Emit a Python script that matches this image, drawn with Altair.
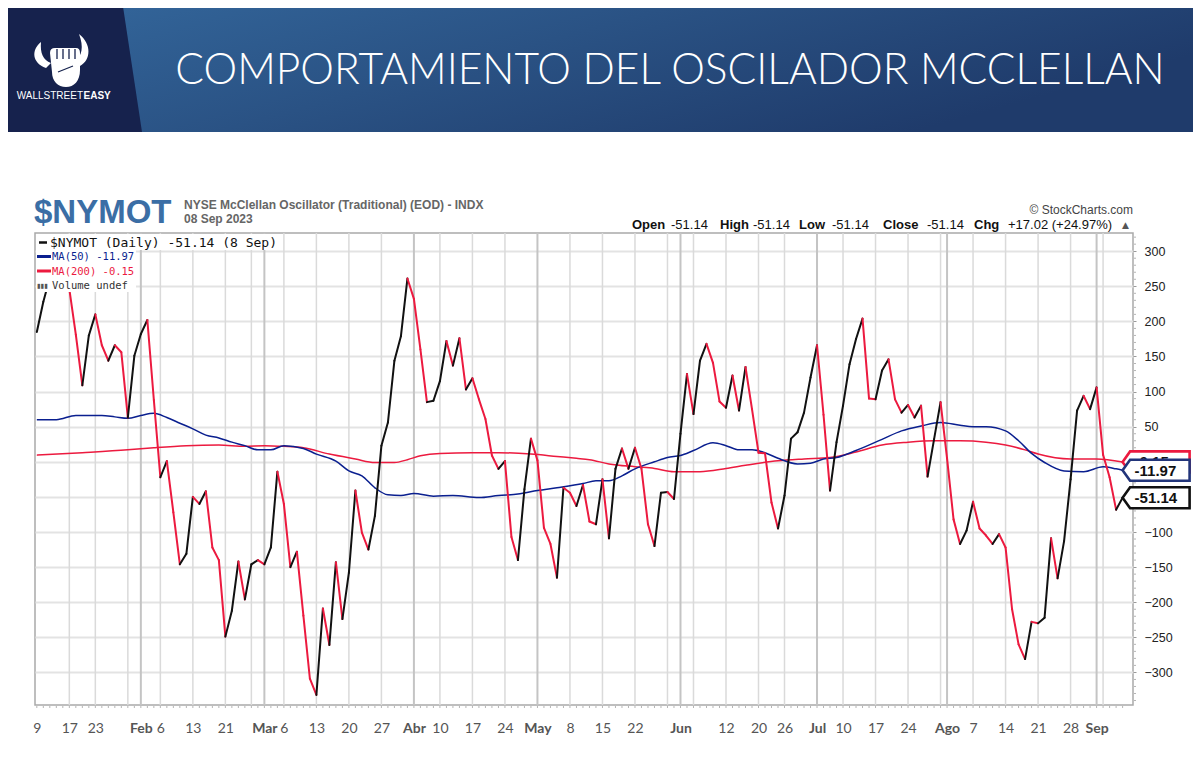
import altair as alt
import pandas as pd
import numpy as np

# ---------------- data ----------------
# McClellan oscillator, one value per trading day, 9 Jan 2023 .. 8 Sep 2023
osc_values = [
    185, 228, 262, 280, 272, 246, 181, 109, 180, 210,
    166, 144, 166, 156, 63, 151, 182, 202, 88, -22,
    1, -72, -146, -131, -50, -60, -42, -122, -140, -249,
    -212, -142, -196, -146, -140, -146, -122, -14, -60, -150,
    -128, -219, -309, -332, -209, -261, -143, -224, -158, -41,
    -101, -125, -77, 23, 56, 144, 179, 261, 232, 160,
    85, 87, 115, 172, 137, 176, 103, 119, 89, 61,
    9, -10, 1, -107, -140, -39, 33, 2, -94, -117,
    -165, -37, -44, -63, -33, -85, -89, -25, -109, -10,
    19, -10, 20, -10, -89, -120, -44, -43, -53, 40,
    125, 68, 144, 168, 141, 86, 77, 123, 73, 135,
    75, 13, 12, -58, -95, -48, 33, 42, 70, 120,
    166, 67, -41, 28, 80, 139, 175, 204, 90, 89,
    130, 146, 89, 70, 81, 63, 80, -21, 32, 85,
    5, -82, -117, -98, -57, -95, -105, -117, -103, -122,
    -210, -260, -281, -228, -230, -222, -109, -166, -113, -25,
    73, 94, 75, 106, 10, -22, -68.16, -51.14,
]

ma50_idx = [0, 3, 6, 10, 12, 14, 16, 18, 20, 22, 24, 26, 28, 30, 32, 34, 36, 38, 41, 43,
            46, 48, 50, 52, 54, 56, 58, 61, 64, 68, 71, 74, 77, 80, 84, 86, 88, 90, 92, 95,
            97, 99, 101, 104, 106, 108, 110, 112, 114, 117, 119, 121, 123, 126, 130, 133, 136, 139, 142, 144,
            146, 149, 151, 153, 155, 158, 161, 164, 166, 167]
ma50_val = [60, 60, 66, 66, 64, 62, 66, 69, 63, 55, 47, 38, 34, 28, 23, 17, 17, 23, 19, 11,
            1, -13, -20, -37, -47, -48, -45, -49, -48, -51, -48, -46, -41, -37, -31, -27, -27, -20, -10, 0,
            6, 9, 16, 27, 23, 17, 17, 13, 5, -3, -2, 4, 6, 16, 32, 44, 51, 56, 52, 50,
            50, 44, 30, 12, -1, -13, -14, -7, -10, -11.97]

ma200_idx = [0, 7, 14, 18, 23, 28, 32, 35, 38, 41, 45, 49, 52, 55, 57, 59, 62, 67, 71, 76,
             80, 83, 85, 88, 92, 95, 98, 102, 106, 109, 114, 118, 122, 126, 130, 134, 138, 142, 146, 149,
             152, 154, 159, 163, 167]
ma200_val = [9.5, 13, 17, 20, 23, 24, 22, 23, 22, 20, 11, 4, -1, -1, 3, 8.5, 12, 13, 13, 11,
             7.6, 5, 3, -3, -7, -9.5, -14, -14, -9.5, -5, 1.4, 4, 6, 14, 24, 28, 30, 30, 28, 24,
             17, 11, 4, 4, -0.15]

tick_idx = [0, 5, 9, 16, 19, 24, 29, 35, 38, 43, 48, 53, 58, 62, 67, 72, 77, 82, 87, 92,
            99, 106, 111, 115, 120, 124, 129, 134, 140, 144, 149, 154, 159, 163]
tick_lab = ["9", "17", "23", "Feb", "6", "13", "21", "Mar", "6", "13", "20", "27", "Abr", "10", "17",
            "24", "May", "8", "15", "22", "Jun", "12", "20", "26", "Jul", "10", "17", "24", "Ago",
            "7", "14", "21", "28", "Sep"]
month_idx = [16, 35, 58, 77, 99, 120, 140, 163]
week_idx = [5, 9, 14, 19, 24, 29, 33, 38, 43, 48, 53, 62, 67, 72, 82, 87, 92, 97, 101, 106,
            111, 115, 124, 129, 134, 139, 144, 149, 154, 159, 164]
y_ticks = [-300, -250, -200, -150, -100, -50, 0, 50, 100, 150, 200, 250, 300]

tag_labels = ["-0.15", "-11.97", "-51.14"]
tag_values = [-0.15, -11.97, -51.14]

# ---------------- styling ----------------
RED = "#ec1a3f"
BLACK = "#111111"
NAVY = "#0a1f8f"
TAG_COLORS = [RED, "#22357a", BLACK]

PLOT_W, PLOT_H = 1098, 472
X0, Y0 = 35, 233          # page position of the plot area


def px(x):
    return x - X0


def py(y):
    return y - Y0


xs = alt.Scale(domain=[-0.28, 168.6], nice=False, zero=False)
ys = alt.Scale(domain=[-346.4, 325.9], nice=False, zero=False)

bold_test = "indexof(" + str(month_idx) + ", datum.value) >= 0"
label_expr = ("[" + ",".join("'" + s + "'" for s in tick_lab) + "][indexof(" + str(tick_idx) +
              ", datum.value)]")

x_axis = alt.Axis(
    values=tick_idx, labelExpr=label_expr, title=None, grid=False, ticks=False, domain=False,
    labelFlush=False, labelOverlap=False, labelBound=False, labelPadding=23,
    labelBaseline="middle", labelFont="Lato", labelFontSize=14, labelColor="#555555",
    labelFontWeight={"condition": {"test": bold_test, "value": "bold"}, "value": "normal"})
# labels 0 and -50 sit behind the value tags in the reference
y_axis = alt.Axis(
    orient="right", values=y_ticks, title=None, grid=True, gridColor="#e3e3e3",
    gridWidth=1.8, domain=False, ticks=True, tickSize=3, tickColor="#999999",
    labelPadding=8, labelFont="Liberation Sans", labelFontSize=12.5, labelColor="#222222",
    labelOverlap=False, labelFlush=False,
    labelExpr="(datum.value == 0 || datum.value == -50) ? '' : datum.label")


def X(field="i"):
    return alt.X(field + ":Q", scale=xs, axis=x_axis, title=None)


def Y(field="v"):
    return alt.Y(field + ":Q", scale=ys, axis=y_axis, title=None)


one = pd.DataFrame({"a": [0]})

n = len(osc_values)
seg = pd.DataFrame({
    "i": list(range(n - 1)),
    "i2": list(range(1, n)),
    "v": osc_values[:-1],
    "v2": osc_values[1:],
})
seg["dir"] = np.where(seg["v2"] >= seg["v"], "up", "down")

ma50 = pd.DataFrame({"i": ma50_idx, "v": ma50_val})
ma200 = pd.DataFrame({"i": ma200_idx, "v": ma200_val})
months = pd.DataFrame({"i": month_idx})
weeks = pd.DataFrame({"i": week_idx})
days = pd.DataFrame({"i": list(range(n))})
minor = pd.DataFrame({"v": [v for v in range(-340, 330, 10) if v % 50 != 0]})


def txt(text, x, y, align="left", baseline="middle", **kw):
    return alt.Chart(one).mark_text(text=text, align=align, baseline=baseline, **kw).encode(
        x=alt.value(px(x)), y=alt.value(py(y)))


def shape(path, fill=None, stroke=None, sw=0):
    kw = dict(shape=path, size=4, opacity=1, strokeWidth=sw)
    if fill:
        kw.update(filled=True, fill=fill, fillOpacity=1)
    else:
        kw.update(filled=False, fillOpacity=0)
    if stroke:
        kw.update(stroke=stroke, strokeOpacity=1)
    else:
        kw.update(strokeOpacity=0)
    return alt.Chart(one).mark_point(**kw).encode(x=alt.value(px(0)), y=alt.value(py(0)))


# ---------------- banner ----------------
banner = alt.Chart(one).mark_rect(
    fill=alt.Gradient(gradient="linear",
                      stops=[alt.GradientStop(color="#34689d", offset=0),
                             alt.GradientStop(color="#2a5284", offset=0.5),
                             alt.GradientStop(color="#1f3b6b", offset=1)],
                      x1=0, x2=1, y1=0, y2=0.4)
).encode(x=alt.value(px(0)), x2=alt.value(px(1201)), y=alt.value(py(0)), y2=alt.value(py(132)))

dark_block = shape("M0,0 L122,0 L142,132 L0,132 Z", fill="#16224d")

logo = shape(
    "M41,42 C31,50 32,63 46,68 L51,63 C43,60 40,53 41,42 Z "
    "M79,34 C92,44 91,60 80,66 L75,61 C82,56 84,47 79,34 Z "
    "M50,53 Q50,48 55,48 L76,48 Q80,48 80,53 L80,70 C80,81 74,87 66,87 C58,87 52,81 52,72 Z",
    fill="white")
logo_lines = shape("M57,49 L57,59 M63,49 L63,59 M69,49 L69,59 M75,49 L75,59 M58,72 L73,66",
                   stroke="#16224d", sw=1.3)

title = txt("COMPORTAMIENTO DEL OSCILADOR MCCLELLAN", 670, 84, align="center", baseline="alphabetic",
            font="Lato", fontWeight=300, fontSize=42.5, color="white")
brand1 = txt("WALLSTREET", 83, 95.5, align="right", font="Liberation Sans", fontSize=10, color="white")
brand2 = txt("EASY", 83.5, 95.5, align="left", font="Liberation Sans", fontSize=10,
             fontWeight="bold", color="white")

# ---------------- header texts ----------------
sym = txt("$NYMOT", 34, 223, baseline="alphabetic", font="Liberation Sans", fontSize=33,
          fontWeight="bold", color="#3b6ea5")
desc = txt("NYSE McClellan Oscillator (Traditional) (EOD) - INDX", 184, 205,
           font="Liberation Sans", fontSize=12, fontWeight="bold", color="#666666")
date = txt("08 Sep 2023", 184, 219, font="Liberation Sans", fontSize=12, fontWeight="bold",
           color="#666666")
sc = txt("© StockCharts.com", 1133, 210, align="right", font="Liberation Sans", fontSize=12,
         color="#444444")

ohlc_parts = [("Open", 632, "bold"), ("-51.14", 671, "normal"), ("High", 720, "bold"),
              ("-51.14", 753, "normal"), ("Low", 799, "bold"), ("-51.14", 832, "normal"),
              ("Close", 883, "bold"), ("-51.14", 927, "normal"), ("Chg", 974, "bold"),
              ("+17.02 (+24.97%)", 1008, "normal")]
ohlc = [txt(t, x, 225, font="Liberation Sans", fontSize=13, fontWeight=w, color="#111111")
        for t, x, w in ohlc_parts]
ohlc.append(txt("▲", 1122, 225, font="DejaVu Sans", fontSize=9, color="#555555"))

# ---------------- plot layers ----------------
vgrid_w = alt.Chart(weeks).mark_rule(color="#dadada", strokeWidth=1.5).encode(x=X())
vgrid_m = alt.Chart(months).mark_rule(color="#c4c4c4", strokeWidth=2).encode(x=X())

day_ticks = alt.Chart(days).mark_rule(color="#b5b5b5", strokeWidth=1).encode(
    x=X(), y=alt.value(PLOT_H + 1), y2=alt.value(PLOT_H + 3))
minor_ticks = alt.Chart(minor).mark_rule(color="#b5b5b5", strokeWidth=1).encode(
    y=Y(), x=alt.value(PLOT_W + 1), x2=alt.value(PLOT_W + 3))

l200 = alt.Chart(ma200).mark_line(color=RED, strokeWidth=1.5, interpolate="monotone").encode(
    x=X(), y=Y())
l50 = alt.Chart(ma50).mark_line(color=NAVY, strokeWidth=1.5, interpolate="monotone").encode(
    x=X(), y=Y())

osc = alt.Chart(seg).mark_rule(strokeWidth=2, strokeCap="round").encode(
    x=X(), x2="i2:Q", y=Y(), y2="v2:Q",
    color=alt.Color("dir:N", scale=alt.Scale(domain=["up", "down"], range=[BLACK, RED]), legend=None),
)

# ---------------- in-chart legend ----------------
leg_bg1 = alt.Chart(one).mark_rect(fill="white", opacity=1).encode(
    x=alt.value(px(36)), x2=alt.value(px(283)), y=alt.value(py(234)), y2=alt.value(py(250)))
leg_bg2 = alt.Chart(one).mark_rect(fill="white", opacity=1).encode(
    x=alt.value(px(36)), x2=alt.value(px(136)), y=alt.value(py(234)), y2=alt.value(py(292)))


def leg_line(x1, x2, y, color, w):
    return alt.Chart(one).mark_rule(color=color, strokeWidth=w).encode(
        x=alt.value(px(x1)), x2=alt.value(px(x2)), y=alt.value(py(y)))


legend = [
    leg_line(39, 47, 242.5, BLACK, 2.5),
    txt("$NYMOT (Daily) -51.14 (8 Sep)", 50, 243, font="DejaVu Sans Mono", fontSize=13, color="#111111"),
    leg_line(37, 51, 256.5, NAVY, 3),
    txt("MA(50) -11.97", 52, 257, font="DejaVu Sans Mono", fontSize=10.5, color=NAVY),
    leg_line(37, 51, 271, RED, 3),
    txt("MA(200) -0.15", 52, 271.5, font="DejaVu Sans Mono", fontSize=10.5, color=RED),
    txt("▮▮▮", 37, 285.5, font="DejaVu Sans", fontSize=6.5, color="#555555"),
    txt("Volume undef", 52, 285.5, font="DejaVu Sans Mono", fontSize=10.5, color="#333333"),
]

# ---------------- value tags on the right ----------------
TAG = "M0,0 L0.75,-1.05 L6.7,-1.05 L6.7,1.05 L0.75,1.05 Z"
tags = []
for lab, val, col in zip(tag_labels, tag_values, TAG_COLORS):
    d = pd.DataFrame({"i": [n - 1], "v": [val], "t": [lab]})
    box = alt.Chart(d).mark_point(shape=TAG, size=400, filled=True, fill="white", fillOpacity=1,
                                  stroke=col, strokeWidth=2.6, strokeOpacity=1, opacity=1).encode(
        x=X(), y=Y())
    lbl = alt.Chart(d).mark_text(align="left", baseline="middle", dx=12, dy=0.5,
                                 font="Liberation Sans", fontSize=15, fontWeight="bold",
                                 color="#111111").encode(x=X(), y=Y(), text="t:N")
    tags += [box, lbl]

layers = ([banner, dark_block, logo, logo_lines, title, brand1, brand2,
           sym, desc, date, sc] + ohlc +
          [vgrid_w, vgrid_m, day_ticks, minor_ticks, l200, l50, osc, leg_bg1, leg_bg2] +
          legend + tags)

chart = alt.layer(*layers).properties(
    width=PLOT_W, height=PLOT_H,
    autosize=alt.AutoSizeParams(type="none"),
    padding={"left": 27, "top": 225, "right": 60, "bottom": 43},
    background="white",
).configure_view(stroke="#a9a9a9", strokeWidth=1.5)

chart.save("out.html", embed_options={"renderer": "svg", "actions": False})
